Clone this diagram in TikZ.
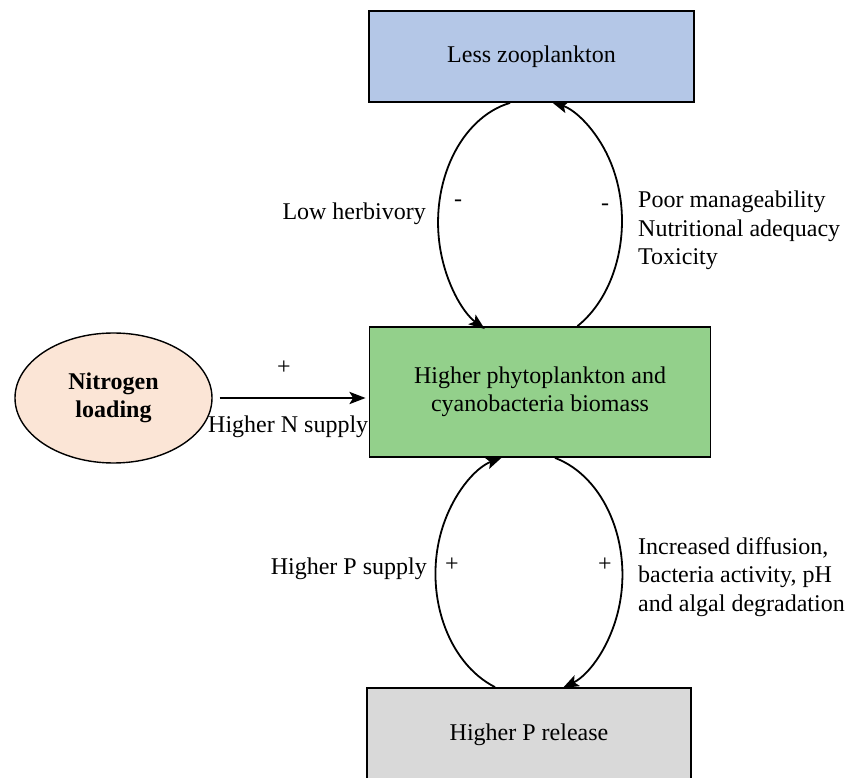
\documentclass[tikz,border=0pt]{standalone}
\usepackage{fontspec}
\setmainfont{Liberation Serif}
\usetikzlibrary{arrows.meta,shapes.geometric}
\definecolor{zooblue}{RGB}{180,199,231}
\definecolor{phygreen}{RGB}{147,208,139}
\definecolor{relgray}{RGB}{217,217,217}
\definecolor{peach}{RGB}{251,229,214}
\begin{document}
\begin{tikzpicture}[x=1pt,y=1pt,
  every node/.style={inner sep=0pt, font=\fontsize{24}{28.5}\selectfont},
  box/.style={draw=black, line width=1.8pt, align=center},
  lbl/.style={inner sep=0pt},
  tip/.style={-{Stealth[length=16pt,width=12pt,inset=3.5pt]}},
  loopline/.style={line width=1.8pt, tip},
  mainarrow/.style={line width=2.8pt, tip}]
\useasboundingbox (0,0) rectangle (846,777);
\clip (0,0) rectangle (846,777);
% boxes
\node[box, fill=zooblue, minimum width=325pt, minimum height=91pt] (zoo) at (531.5,720.5) {Less zooplankton};
\node[box, fill=phygreen, minimum width=341pt, minimum height=130pt] (mid) at (540,385) {Higher phytoplankton and\\cyanobacteria biomass};
\node[box, fill=relgray, minimum width=324pt, minimum height=94pt] (rel) at (529,42) {Higher P release};
\node[ellipse, draw=black, line width=1.4pt, fill=peach, minimum width=197pt, minimum height=130pt, align=center, font=\fontsize{24}{28.5}\selectfont\bfseries] (nl) at (113.5,379) {Nitrogen\\loading};
% nitrogen arrow
\coordinate (nend) at (mid.west |- nl.east);
\draw[mainarrow] ([xshift=7pt]nl.east) -- ([xshift=-3pt]nend);
\node[lbl] (nplus) at (284,409) {+};
\node[lbl, anchor=base west] (nsup) at (208,344) {Higher N supply};
% top loop
\draw[loopline] ([xshift=-21.5pt]zoo.south) arc[start angle=102.6, end angle=240.5, x radius=92pt, y radius=122.5pt];
\draw[loopline] ([xshift=37.5pt]mid.north) arc[start angle=-58.9, end angle=76.2, x radius=92pt, y radius=122.5pt];
\node[lbl, anchor=base east] (lowh) at (426,557) {Low herbivory};
\node[lbl] (m1) at (458,574) {-};
\node[lbl] (m2) at (605,570) {-};
\node[lbl, anchor=base west] (poor) at (638,569) {\begin{tabular}[t]{@{}l@{}}Poor manageability\\Nutritional adequacy\\Toxicity\end{tabular}};
% bottom loop
\draw[loopline] ([xshift=-34pt]rel.north) arc[start angle=248.7, end angle=106.8, x radius=93.5pt, y radius=121.6pt];
\draw[loopline] ([xshift=15pt]mid.south) arc[start angle=73.8, end angle=-68.7, x radius=93.5pt, y radius=121.6pt];
\node[lbl, anchor=base east] (hps) at (427,202) {Higher P supply};
\node[lbl] (p1) at (452,212) {+};
\node[lbl] (p2) at (605,212) {+};
\node[lbl, anchor=base west] (incr) at (638,222.5) {\begin{tabular}[t]{@{}l@{}}Increased diffusion,\\bacteria activity, pH\\and algal degradation\end{tabular}};
\end{tikzpicture}
\end{document}
